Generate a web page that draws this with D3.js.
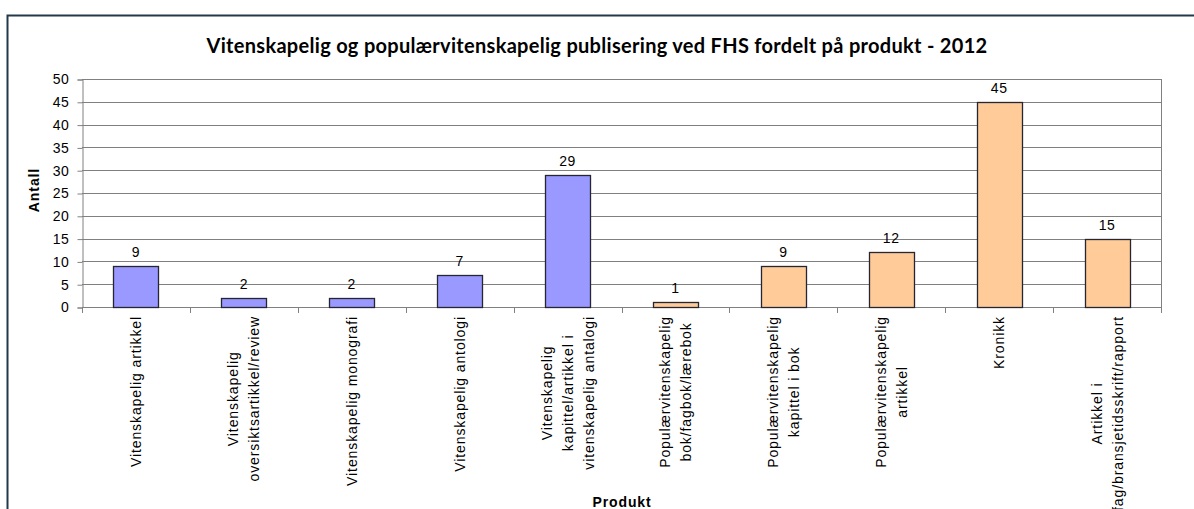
<!DOCTYPE html>
<html>
<head>
<meta charset="utf-8">
<script src="https://cdn.jsdelivr.net/npm/d3@7"></script>
<style>
  html, body { margin: 0; padding: 0; background: #fff; }
  svg { display: block; }
</style>
</head>
<body>
<svg id="chart" width="1194" height="509"></svg>
<script>
const titleText = "Vitenskapelig og populærvitenskapelig publisering ved FHS fordelt på produkt - 2012";
const yAxisTitle = "Antall";
const xAxisTitle = "Produkt";
const categories = [
  ["Vitenskapelig artikkel"],
  ["Vitenskapelig", "oversiktsartikkel/review"],
  ["Vitenskapelig monografi"],
  ["Vitenskapelig antologi"],
  ["Vitenskapelig", "kapittel/artikkel i", "vitenskapelig antalogi"],
  ["Populærvitenskapelig", "bok/fagbok/lærebok"],
  ["Populærvitenskapelig", "kapittel i bok"],
  ["Populærvitenskapelig", "artikkel"],
  ["Kronikk"],
  ["Artikkel i", "fag/bransjetidsskrift/rapport"]
];
const values = [9, 2, 2, 7, 29, 1, 9, 12, 45, 15];
const groups = ["vit", "vit", "vit", "vit", "vit", "pop", "pop", "pop", "pop", "pop"];
const yTicks = [0, 5, 10, 15, 20, 25, 30, 35, 40, 45, 50];

const colors = { vit: "#9999ff", pop: "#ffcc99" };
const FONT = "'Liberation Sans', Arial, sans-serif";
const LS = 0.9;

const svg = d3.select("#chart");
const W = 1194, H = 509;
const plot = { left: 82, right: 1161, top: 79, bottom: 307 };

// outer chart border
svg.append("rect")
  .attr("x", 7.5).attr("y", 15.5)
  .attr("width", W + 20).attr("height", H + 20)
  .attr("fill", "#fff")
  .attr("stroke", "#23394a").attr("stroke-width", 2);

const ids = categories.map((c, i) => i);
const x = d3.scaleBand().domain(ids).range([plot.left, plot.right]).paddingInner(0).paddingOuter(0);
const y = d3.scaleLinear().domain([0, 50]).range([plot.bottom, plot.top]);

// gridlines
svg.append("g").selectAll("line").data(yTicks.filter(t => t > 0)).join("line")
  .attr("x1", plot.left).attr("x2", plot.right)
  .attr("y1", d => Math.round(y(d)) + 0.5).attr("y2", d => Math.round(y(d)) + 0.5)
  .attr("stroke", "#808080").attr("stroke-width", 1);

// right plot border
svg.append("line")
  .attr("x1", plot.right + 0.5).attr("x2", plot.right + 0.5)
  .attr("y1", plot.top).attr("y2", plot.bottom)
  .attr("stroke", "#808080");

// y axis
const yAxis = d3.axisLeft(y).tickValues(yTicks).tickSize(5).tickPadding(8).tickFormat(d3.format("d"));
const yg = svg.append("g").attr("transform", `translate(${plot.left + 0.5},0.5)`).call(yAxis);
yg.select(".domain").attr("stroke", "#808080");
yg.selectAll(".tick line").attr("stroke", "#808080");
yg.selectAll("text").attr("font-family", FONT).attr("font-size", 14).attr("letter-spacing", 0.6).attr("fill", "#000");

// x axis line and ticks at band boundaries
const boundaries = ids.map(i => x(i)).concat([plot.right]);
svg.append("line")
  .attr("x1", plot.left).attr("x2", plot.right)
  .attr("y1", plot.bottom + 0.5).attr("y2", plot.bottom + 0.5)
  .attr("stroke", "#808080");
svg.append("g").selectAll("line").data(boundaries).join("line")
  .attr("x1", d => Math.round(d) + 0.5).attr("x2", d => Math.round(d) + 0.5)
  .attr("y1", plot.bottom).attr("y2", plot.bottom + 6)
  .attr("stroke", "#808080");

// bars
const barW = 45;
svg.append("g").selectAll("rect").data(values).join("rect")
  .attr("x", (d, i) => Math.round(x(i) + x.bandwidth() / 2 - barW / 2) + 0.5)
  .attr("y", d => Math.round(y(d)) + 0.5)
  .attr("width", barW)
  .attr("height", d => Math.round(y(0)) - Math.round(y(d)))
  .attr("fill", (d, i) => colors[groups[i]])
  .attr("stroke", "#262633").attr("stroke-width", 1.3);

// value labels
svg.append("g").selectAll("text").data(values).join("text")
  .attr("x", (d, i) => x(i) + x.bandwidth() / 2)
  .attr("y", d => y(d) - 9)
  .attr("text-anchor", "middle")
  .attr("font-family", FONT)
  .attr("font-size", 14)
  .attr("letter-spacing", 0.6)
  .attr("fill", "#000")
  .text(d => d);

// category labels (rotated, top-aligned, lines centered)
const lineGap = 21;
const catG = svg.append("g");
categories.forEach((lines, i) => {
  const cx = x(i) + x.bandwidth() / 2;
  const g = catG.append("g").attr("transform", `translate(${cx},316) rotate(-90)`);
  const texts = lines.map((ln, j) => g.append("text")
    .attr("font-family", FONT)
    .attr("font-size", 14)
    .attr("letter-spacing", LS)
    .attr("fill", "#000")
    .attr("text-anchor", "middle")
    .attr("y", (j - (lines.length - 1) / 2) * lineGap + 5)
    .text(ln));
  const maxLen = d3.max(texts, t => t.node().getComputedTextLength());
  texts.forEach(t => t.attr("x", -maxLen / 2));
});

// title
svg.append("text")
  .attr("x", 597).attr("y", 53)
  .attr("text-anchor", "middle")
  .attr("font-family", "Lato, Carlito, Calibri, sans-serif")
  .attr("font-weight", "bold")
  .attr("font-size", 20)
  .attr("letter-spacing", 0.3)
  .attr("fill", "#000")
  .text(titleText);

// axis titles
svg.append("text")
  .attr("transform", "translate(39,190) rotate(-90)")
  .attr("text-anchor", "middle")
  .attr("font-family", FONT)
  .attr("font-weight", "bold")
  .attr("font-size", 14)
  .attr("letter-spacing", LS)
  .attr("fill", "#000")
  .text(yAxisTitle);

svg.append("text")
  .attr("x", 622).attr("y", 507)
  .attr("text-anchor", "middle")
  .attr("font-family", FONT)
  .attr("font-weight", "bold")
  .attr("font-size", 14)
  .attr("letter-spacing", LS)
  .attr("fill", "#000")
  .text(xAxisTitle);
</script>
</body>
</html>
